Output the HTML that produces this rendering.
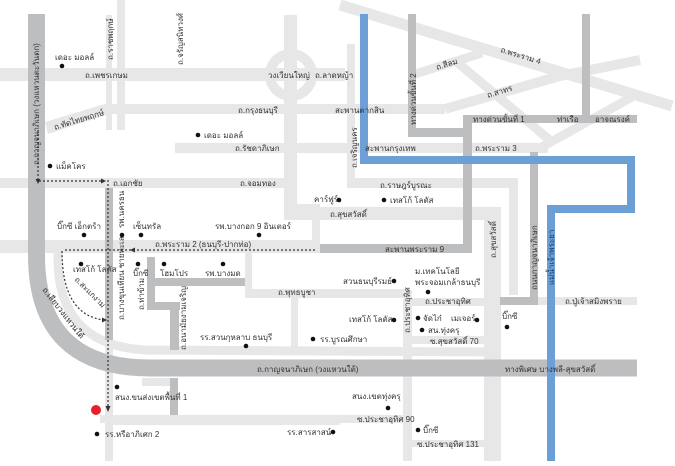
<!DOCTYPE html>
<html><head><meta charset="utf-8"><style>
html,body{margin:0;padding:0;background:#fff;}
svg{display:block;}
text{font-family:"Liberation Sans","Noto Sans CJK SC",sans-serif;font-size:8px;fill:#333;}
</style></head><body>
<svg width="675" height="466" viewBox="0 0 675 466" xmlns="http://www.w3.org/2000/svg">
<g fill="#e7e7e8" stroke="none">
<rect x="0" y="68" width="345" height="13"/>
<rect x="106" y="15" width="6" height="115"/>
<rect x="117" y="0" width="8" height="130"/>
<polygon points="45,122 108,103 112,113 48,134"/>
<rect x="105" y="104" width="340" height="10"/>
<rect x="284" y="15" width="13" height="205"/>
<rect x="284" y="204" width="36" height="10"/>
<rect x="312" y="204" width="8" height="40"/>
<rect x="175" y="143" width="373" height="10"/>
<rect x="0" y="178" width="290" height="10"/>
<rect x="347" y="44" width="8" height="144"/>
<rect x="347" y="178" width="170" height="10"/>
<rect x="509" y="178" width="9" height="117"/>
<rect x="290" y="207" width="210" height="13"/>
<rect x="484" y="207" width="17" height="254"/>
<rect x="0" y="240" width="320" height="13"/>
<rect x="245" y="253" width="7" height="45"/>
<rect x="245" y="289" width="165" height="9"/>
<rect x="291" y="289" width="7" height="60"/>
<rect x="403" y="290" width="9" height="171"/>
<rect x="412" y="298" width="72" height="8"/>
<rect x="412" y="336" width="72" height="8"/>
<rect x="412" y="440" width="72" height="7"/>
<rect x="100" y="415" width="303" height="8"/>
<rect x="105" y="340" width="8" height="121"/>
<rect x="113" y="417" width="227" height="8"/>
<rect x="142" y="378" width="28" height="8"/>
<rect x="555" y="297" width="82" height="8"/>
<rect x="510" y="297" width="45" height="8"/>
</g>
<g fill="none" stroke="#e7e7e8">
<circle cx="291" cy="75" r="21" stroke-width="10"/>
<line x1="340" y1="5" x2="672" y2="106" stroke-width="11"/>
<polyline points="445,109 560,76 640,60" stroke-width="10"/>
<line x1="415" y1="74" x2="482" y2="53" stroke-width="9"/>
<line x1="458" y1="63" x2="552" y2="142" stroke-width="9"/>
<line x1="540" y1="148" x2="632" y2="97" stroke-width="9"/>
<path d="M58,250 L58,262 Q60,345 145,350 L500,352" stroke-width="9"/>
</g>
<g fill="#bdbec0">
<rect x="408" y="14" width="8" height="123"/>
<rect x="408" y="128" width="60" height="9"/>
<rect x="463" y="115" width="9" height="138"/>
<rect x="463" y="115" width="174" height="8"/>
<rect x="582" y="14" width="8" height="106"/>
<rect x="320" y="244" width="152" height="9"/>
<rect x="530" y="152" width="8" height="153"/>
<rect x="500" y="297" width="38" height="8"/>
<rect x="105" y="188" width="8" height="152"/>
<rect x="147" y="257" width="8" height="52"/>
<rect x="155" y="278" width="90" height="8"/>
<rect x="147" y="302" width="33" height="8"/>
<rect x="170" y="302" width="9" height="48"/>
<rect x="170" y="378" width="8" height="37"/>
</g>
<path d="M36.5,14 L36.5,255 Q36.5,368 150,368 L637,368" fill="none" stroke="#bdbec0" stroke-width="17"/>
<g fill="none" stroke="#6b9fd6" stroke-width="8">
<polyline points="364,14 364,160 631,160 631,209 551,209 551,461"/>
</g>
<g fill="none" stroke="#333" stroke-width="1.2" stroke-dasharray="2,2">
<polyline points="38,130 38,181 103,181"/>
<line x1="108" y1="180" x2="108" y2="408"/>
<line x1="315" y1="250" x2="63" y2="250"/>
<path d="M62,251 Q62,315 104,320"/>
</g>
<g fill="#333">
<polygon points="106,181 101,178.5 101,183.5"/>
<polygon points="108,412 105.5,406 110.5,406"/>
<polygon points="130,250 135,247.5 135,252.5"/>
<polygon points="107,320 102,317.5 102,322.5"/>
<polygon points="38,184 35.5,179 40.5,179"/>
</g>
<g fill="#111">
<circle cx="62" cy="66" r="2.3"/><circle cx="198" cy="135" r="2.3"/><circle cx="50" cy="166" r="2.3"/>
<circle cx="339" cy="200" r="2.3"/><circle cx="384" cy="200" r="2.3"/>
<circle cx="84" cy="235" r="2.3"/><circle cx="122" cy="235" r="2.3"/><circle cx="141" cy="235" r="2.3"/><circle cx="259" cy="235" r="2.3"/>
<circle cx="81" cy="264" r="2.3"/><circle cx="138" cy="264" r="2.3"/><circle cx="164" cy="264" r="2.3"/><circle cx="223" cy="264" r="2.3"/>
<circle cx="246" cy="346" r="2.3"/><circle cx="313" cy="339" r="2.3"/>
<circle cx="394" cy="281" r="2.3"/><circle cx="428" cy="292" r="2.3"/><circle cx="394" cy="320" r="2.3"/>
<circle cx="418" cy="318" r="2.3"/><circle cx="477" cy="320" r="2.3"/><circle cx="422" cy="330" r="2.3"/><circle cx="507" cy="327" r="2.3"/>
<circle cx="117" cy="387" r="2.3"/><circle cx="388" cy="408" r="2.3"/><circle cx="418" cy="430" r="2.3"/>
<circle cx="97" cy="434" r="2.3"/><circle cx="333" cy="432" r="2.3"/>
</g>
<circle cx="96" cy="410" r="5" fill="#e8202a"/>
<text x="55" y="60">เดอะ มอลล์</text>
<text transform="translate(39,165) rotate(-90)">ถ.กาญจนาภิเษก (วงแหวนตะวันตก)</text>
<text transform="translate(113,60) rotate(-90)">ถ.ราชพฤกษ์</text>
<text transform="translate(183,65) rotate(-90)">ถ.จรัญสนิทวงศ์</text>
<text x="85" y="78">ถ.เพชรเกษม</text>
<text x="268" y="78">วงเวียนใหญ่</text>
<text x="315" y="78">ถ.ลาดหญ้า</text>
<text transform="translate(55,130) rotate(-17)">ถ.ทัดไทยพฤกษ์</text>
<text x="238" y="113">ถ.กรุงธนบุรี</text>
<text x="335" y="113">สะพานตากสิน</text>
<text x="204" y="138">เดอะ มอลล์</text>
<text x="235" y="151">ถ.รัชดาภิเษก</text>
<text x="56" y="169">แม็คโคร</text>
<text x="113" y="186">ถ.เอกชัย</text>
<text x="240" y="186">ถ.จอมทอง</text>
<text x="314" y="202">คาร์ฟูร์</text>
<text x="380" y="188">ถ.ราษฎร์บูรณะ</text>
<text x="390" y="203">เทสโก้ โลตัส</text>
<text x="330" y="217">ถ.สุขสวัสดิ์</text>
<text x="57" y="229">บิ๊กซี เอ็กตร้า</text>
<text transform="translate(124,228) rotate(-90)">รพ.นครธน</text>
<text x="133" y="229">เซ็นทรัล</text>
<text x="215" y="229">รพ.บางกอก 9 อินเตอร์</text>
<text transform="translate(357,168) rotate(-90)">ถ.เจริญนคร</text>
<text transform="translate(416,125) rotate(-90)">ทางด่วนขั้นที่ 2</text>
<text transform="translate(437,70) rotate(-17)">ถ.สีลม</text>
<text transform="translate(500,52) rotate(17)">ถ.พระราม 4</text>
<text transform="translate(488,98) rotate(-17)">ถ.สาทร</text>
<text x="473" y="122">ทางด่วนขั้นที่ 1</text>
<text x="557" y="122">ท่าเรือ</text>
<text x="595" y="122">อาจณรงค์</text>
<text x="365" y="151">สะพานกรุงเทพ</text>
<text x="475" y="151">ถ.พระราม 3</text>
<text transform="translate(537,290) rotate(-90)">ถนนกาญจนาภิเษก</text>
<text transform="translate(554,285) rotate(-90)" style="fill:#1a3d6b">แม่น้ำเจ้าพระยา</text>
<text x="565" y="304">ถ.ปู่เจ้าสมิงพราย</text>
<text x="155" y="247">ถ.พระราม 2 (ธนบุรี-ปากท่อ)</text>
<text x="385" y="252">สะพานพระราม 9</text>
<text x="73" y="272">เทสโก้ โลตัส</text>
<text transform="translate(74,280) rotate(45)">ถ.สะแกงาม</text>
<text transform="translate(124,320) rotate(-90)">ถ.บางขุนเทียน ชายทะเล</text>
<text x="133" y="276">บิ๊กซี</text>
<text transform="translate(144,310) rotate(-90)">ถ.ท่าข้าม</text>
<text x="160" y="276">โฮมโปร</text>
<text x="205" y="276">รพ.บางมด</text>
<text x="278" y="295">ถ.พุทธบูชา</text>
<text transform="translate(186,350) rotate(-90)">ถ.อนามัยงามเจริญ</text>
<text x="200" y="340">รร.สวนกุหลาบ ธนบุรี</text>
<text x="320" y="342">รร.บูรณศึกษา</text>
<text transform="translate(42,290) rotate(52)" style="fill:#222">ถ.เลียบวงแหวนใต้</text>
<text x="343" y="284">สวนธนบุรีรมย์</text>
<text x="415" y="274">ม.เทคโนโลยี</text>
<text x="415" y="285">พระจอมเกล้าธนบุรี</text>
<text x="425" y="304">ถ.ประชาอุทิศ</text>
<text transform="translate(410,333) rotate(-90)">ถ.ประชาอุทิศ</text>
<text x="349" y="322">เทสโก้ โลตัส</text>
<text x="423" y="321">จัดไก๋</text>
<text x="451" y="321">เมเจอร์</text>
<text x="428" y="333">สน.ทุ่งครุ</text>
<text x="430" y="344">ซ.สุขสวัสดิ์ 70</text>
<text transform="translate(496,258) rotate(-90)">ถ.สุขสวัสดิ์</text>
<text x="502" y="319">บิ๊กซี</text>
<text x="257" y="372">ถ.กาญจนาภิเษก (วงแหวนใต้)</text>
<text x="505" y="372">ทางพิเศษ บางพลี-สุขสวัสดิ์</text>
<text x="115" y="400">สนง.ขนส่งเขตพื้นที่ 1</text>
<text x="352" y="399">สนง.เขตทุ่งครุ</text>
<text x="357" y="422">ซ.ประชาอุทิศ 90</text>
<text x="423" y="433">บิ๊กซี</text>
<text x="417" y="447">ซ.ประชาอุทิศ 131</text>
<text x="105" y="437">รร.หรือาภิเศก 2</text>
<text x="287" y="435">รร.สารสาสน์</text>
</svg>
</body></html>
